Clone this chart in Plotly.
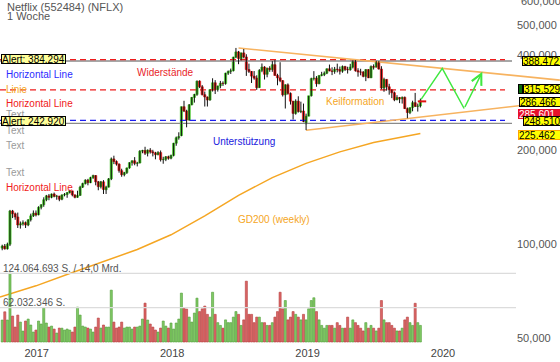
import math
import pandas as pd
import numpy as np
import plotly.graph_objects as go

# ---------------- data (USD, weekly candles) ----------------
first_week = "2016-09-26"

opens = [97.0, 98.5, 96.5, 99.8, 127.5, 124.9, 122.0, 115.0, 116.0, 117.0, 115.0, 119.5, 123.0, 125.5,
         124.0, 131.0, 133.5, 138.5, 142.5, 141.0, 144.5, 142.0, 142.3, 139.0, 143.5, 144.0, 146.0, 147.8,
         143.5, 141.0, 143.0, 152.0, 156.0, 160.0, 157.0, 163.0, 165.5, 158.0, 152.5, 158.0, 149.0, 152.0,
         161.5, 187.0, 183.5, 180.0, 171.5, 166.5, 169.0, 175.0, 182.0, 184.5, 181.0, 181.5, 198.0, 199.0,
         195.0, 199.5, 197.0, 195.5, 193.0, 196.0, 186.0, 186.5, 190.0, 188.0,
         192.0, 209.9, 218.5, 222.0, 274.6, 266.0, 249.0, 278.5, 294.0, 300.5, 331.5, 318.0, 300.0, 295.0,
         288.5, 311.5, 327.5, 311.5, 320.0, 326.5, 325.5, 351.5, 356.0, 358.0, 395.5, 411.0, 391.5, 408.0,
         396.0, 361.0, 356.0, 344.0, 339.0, 316.0, 358.8, 367.7, 348.7, 364.6, 361.0, 374.1, 345.6, 339.6,
         332.7, 299.8, 322.6, 302.9, 286.0, 261.4, 286.1, 265.1, 266.0, 242.0, 256.1,
         297.6, 337.6, 339.1, 325.2, 345.7, 347.6, 351.4, 363.0, 357.3, 356.0, 362.0, 361.0, 356.6, 369.0,
         361.2, 360.4, 367.7, 385.0, 358.0, 354.5, 354.4, 343.3, 360.9, 339.7, 369.0, 367.3, 381.7, 362.4,
         315.1, 335.8, 318.0, 311.0, 304.3, 289.0, 293.8, 291.0, 294.2, 270.8, 263.1, 272.8, 282.9, 275.3,
         276.0]
highs = [99.5, 100.0, 101.0, 128.5, 128.5, 126.0, 126.0, 118.0, 119.0, 118.0, 120.0, 125.0, 128.0, 128.0,
         132.0, 134.0, 141.0, 143.5, 144.5, 145.0, 146.0, 143.5, 142.5, 144.0, 145.5, 146.5, 149.0, 148.0,
         144.0, 148.0, 153.5, 157.0, 161.0, 161.5, 164.0, 166.5, 166.0, 159.0, 159.0, 160.0, 153.5, 162.5,
         189.0, 191.5, 185.0, 181.0, 174.0, 170.0, 175.5, 182.5, 185.0, 189.5, 183.0, 199.5, 200.0, 204.5,
         200.5, 202.5, 200.0, 197.0, 198.0, 199.0, 190.0, 191.0, 191.5, 193.0,
         210.5, 220.5, 227.5, 275.0, 286.8, 268.5, 280.0, 295.0, 302.0, 333.0, 333.5, 322.0, 307.0, 296.0,
         312.0, 338.5, 334.0, 320.5, 332.0, 331.0, 352.5, 358.5, 363.5, 396.5, 423.2, 414.0, 409.0, 419.8,
         404.0, 377.0, 357.0, 357.0, 346.0, 362.0, 377.5, 370.0, 366.0, 370.0, 384.0, 386.8, 350.0, 381.0,
         334.0, 324.0, 326.0, 305.0, 286.5, 290.0, 296.5, 285.0, 281.0, 261.0, 297.5,
         340.0, 356.8, 344.0, 346.0, 355.0, 356.0, 364.0, 374.5, 367.0, 368.0, 377.0, 369.0, 372.0, 371.0,
         368.5, 376.5, 386.0, 387.0, 364.5, 363.0, 357.0, 362.0, 362.0, 372.0, 375.0, 385.0, 384.0, 370.0,
         340.0, 336.0, 325.0, 312.0, 307.0, 299.0, 295.0, 296.0, 296.0, 273.0, 273.0, 287.0, 304.0, 281.0,
         291.5]
lows = [95.5, 96.0, 96.0, 98.5, 121.0, 119.5, 112.5, 112.0, 114.5, 112.5, 114.0, 118.0, 122.0, 122.5,
        123.5, 129.0, 131.5, 137.0, 138.0, 140.0, 141.0, 138.5, 137.0, 138.0, 142.0, 140.5, 145.0, 142.0,
        140.0, 140.5, 142.5, 151.0, 155.0, 154.0, 156.5, 161.5, 154.0, 148.5, 150.5, 144.5, 144.5, 151.5,
        160.0, 180.0, 178.0, 169.0, 164.0, 164.5, 167.5, 174.0, 178.0, 178.5, 177.0, 181.0, 195.0, 192.5,
        190.5, 194.5, 190.5, 186.5, 192.0, 183.5, 180.5, 184.0, 186.0, 186.5,
        190.5, 206.0, 215.5, 221.0, 264.0, 236.0, 247.5, 277.5, 283.0, 297.5, 315.0, 298.5, 275.0, 275.0,
        287.0, 307.0, 301.5, 307.0, 314.5, 320.0, 323.0, 347.0, 349.5, 356.0, 392.5, 375.5, 386.0, 392.0,
        344.5, 352.0, 327.0, 335.0, 310.9, 315.5, 354.0, 335.5, 341.0, 355.0, 355.0, 345.0, 321.5, 329.0,
        296.0, 271.0, 300.0, 279.0, 250.0, 259.0, 263.0, 262.0, 245.0, 231.2, 256.0,
        296.0, 333.0, 318.0, 324.0, 343.5, 344.0, 349.0, 356.5, 346.5, 350.0, 353.5, 348.0, 352.5, 357.0,
        350.5, 358.0, 364.0, 355.5, 342.5, 346.0, 341.0, 331.5, 339.0, 339.0, 361.0, 366.5, 361.0, 312.0,
        306.5, 309.0, 300.0, 292.5, 286.0, 288.0, 282.0, 281.0, 270.0, 252.3, 260.0, 265.5, 274.0, 265.0,
        273.0]
closes = [98.5, 96.5, 99.8, 127.5, 124.9, 122.0, 115.0, 116.0, 117.0, 115.0, 119.5, 123.0, 125.5, 123.8,
          131.0, 133.5, 138.5, 142.5, 141.0, 144.5, 142.0, 142.3, 139.0, 143.5, 144.0, 146.0, 147.8, 143.5,
          141.0, 143.0, 152.0, 156.0, 160.0, 157.0, 163.0, 165.5, 158.0, 152.5, 158.0, 149.4, 152.0, 161.5,
          187.0, 183.5, 180.0, 171.5, 166.5, 169.0, 175.0, 182.0, 184.5, 181.0, 181.5, 198.0, 199.0, 195.0,
          199.5, 197.0, 195.5, 193.0, 196.0, 186.0, 186.5, 190.0, 188.0, 192.0,
          209.9, 218.5, 220.5, 274.6, 266.0, 249.0, 278.5, 294.0, 300.5, 331.5, 318.0, 300.0, 295.0, 288.5,
          311.5, 327.5, 311.5, 320.0, 326.5, 325.5, 351.5, 356.0, 358.0, 395.5, 411.0, 391.5, 408.0, 396.0,
          361.0, 356.0, 344.0, 339.0, 316.0, 358.8, 367.7, 348.7, 364.6, 361.0, 374.1, 345.6, 339.6, 332.7,
          299.8, 322.6, 302.9, 286.0, 261.4, 286.1, 265.1, 266.0, 246.4, 256.1, 297.6,
          337.6, 339.1, 325.2, 345.7, 347.6, 351.4, 363.0, 357.3, 356.0, 362.0, 361.0, 356.6, 369.0, 361.2,
          360.4, 367.7, 385.0, 358.0, 354.5, 354.4, 343.3, 360.9, 339.7, 369.0, 367.3, 381.7, 362.4, 315.1,
          335.8, 318.0, 311.0, 304.3, 289.0, 293.8, 291.0, 294.2, 270.8, 263.1, 272.8, 282.9, 275.3, 276.0,
          286.8]
# weekly volume, millions of shares
volumes_m = [39.7, 54.6, 39.7, 124.4, 46.9, 27.0, 48.7, 36.0, 19.8, 37.9, 41.5, 30.7, 18.0, 21.6, 37.9, 32.5,
             61.3, 34.3, 27.0, 28.8, 23.4, 16.2, 25.2, 25.0, 21.6, 23.4, 21.6, 18.0, 27.0,
             63.1, 48.7, 28.8, 27.0, 25.2, 23.4, 18.0, 27.0, 43.3, 25.2, 30.7, 27.0, 27.0,
             93.8, 36.0, 25.2, 27.0, 36.0, 25.2, 27.0, 27.0, 23.4, 27.0, 27.0, 28.8, 41.5,
             70.3, 39.7, 32.5, 27.0, 21.6, 18.0, 25.2, 37.9, 28.8, 25.2, 34.3, 23.4, 34.3, 41.5,
             88.4, 61.3, 59.5, 45.1, 36.0, 52.3, 79.3,
             55, 60, 65, 50, 45, 90, 50, 35, 30, 25, 40, 35, 35, 45, 55, 50, 30, 40, 110, 50, 50,
             35, 45, 45, 35, 35, 30, 30, 35, 45, 55, 90, 60, 75, 40, 45, 55, 50, 45, 40, 50, 40, 60,
             75, 80, 55, 40, 30, 25, 30, 30, 30, 25, 35, 30, 25, 25, 45, 25, 40, 35, 30, 25, 20,
             35, 25, 30, 25, 20, 25, 75, 40, 35, 35, 30, 25, 20, 20, 25, 40, 45, 35, 30, 70, 35, 30]

gd200_dates = ["2016-09-24", "2016-12-30", "2017-03-31", "2017-06-30", "2017-09-29", "2017-12-29",
               "2018-03-30", "2018-06-29", "2018-09-28", "2018-12-28", "2019-03-29", "2019-06-28",
               "2019-11-01"]
gd200_vals = [67.7, 73.5, 80.5, 88.0, 96.0, 107.0, 123.0, 143.0, 163.0, 181.0, 197.0, 211.0, 225.462]

resistance_level = 388.472
alert_high = 384.294
mid_line_level = 311.0
support_level = 248.51
alert_low = 242.92
last_price = 285.601

wedge_upper_dates = ["2018-06-29", "2020-11-11"]
wedge_upper_vals = [423.0, 334.0]
wedge_lower_dates = ["2018-12-28", "2020-11-11"]
wedge_lower_vals = [231.0, 286.466]

proj_dates = ["2019-11-03", "2019-12-30", "2020-02-27", "2020-04-16"]
proj_vals = [290.0, 364.0, 271.0, 355.0]

vol_grid_levels = [62.032346, 124.064693]

right_labels = ["388,472", "315,529", "286,466", "285,601", "248,510", "225,462"]
right_label_vals = [388.472, 315.529, 286.466, 285.601, 248.51, 225.462]

year_ticks = ["2017-01-01", "2018-01-01", "2019-01-01", "2020-01-01"]
year_labels = ["2017", "2018", "2019", "2020"]
price_ticks = [50, 100, 200, 400, 500]
price_tick_labels = ["50,000", "100,000", "200,000", "400,000", "500,000"]
top_tick = 600
top_tick_label = "600,000"

n = len(opens)
assert len(highs) == n and len(lows) == n and len(closes) == n and len(volumes_m) == n

# ---------------- geometry ----------------
W, H = 560, 362
PLOT_H = 345
ref_date = pd.Timestamp("2017-01-01")
ref_px = 36.7
px_per_day = 0.37105


def px2date(px):
    return (ref_date + pd.Timedelta(days=(px - ref_px) / px_per_day)).strftime("%Y-%m-%d %H:%M")


def xp(px):
    return px / W


def yp(py):
    return (PLOT_H - py) / PLOT_H


x_left, x_right = px2date(0), px2date(W)
dash_end = px2date(505)
gray_end = px2date(512)
grid_end = px2date(516)

week_dates = pd.date_range(first_week, periods=n, freq="7D") + pd.Timedelta(days=4)
dates = [d.strftime("%Y-%m-%d") for d in week_dates]

GREEN = "#3cbf1e"
RED = "#e01010"
up = [c >= o for o, c in zip(opens, closes)]

fig = go.Figure()

# volume bars
fig.add_trace(go.Bar(
    x=dates, y=volumes_m, yaxis="y2", width=5.6 * 86400000,
    marker=dict(color=["#80c965" if u else "#da6666" for u in up],
                line=dict(color=["#4f9e35" if u else "#b63a3a" for u in up], width=0.6)),
    hoverinfo="skip"))
for lv in vol_grid_levels:
    fig.add_trace(go.Scatter(x=[x_left, grid_end], y=[lv, lv], yaxis="y2", mode="lines",
                             line=dict(color="#dcdcdc", width=1.2), hoverinfo="skip"))


def hline(level, color, dash, end, width=1.2):
    fig.add_trace(go.Scatter(x=[x_left, end], y=[level, level], mode="lines",
                             line=dict(color=color, width=width, dash=dash), hoverinfo="skip"))


hline(alert_high, "#8a8a8a", "solid", gray_end, 1.4)
hline(alert_low, "#8a8a8a", "solid", gray_end, 1.4)
hline(resistance_level, "#ee1c1c", "6px,4px", dash_end)
hline(mid_line_level, "#ee1c1c", "6px,4px", dash_end)
hline(support_level, "#1c1cee", "6px,4px", dash_end)

# GD200
fig.add_trace(go.Scatter(x=gd200_dates, y=gd200_vals, mode="lines",
                         line=dict(color="#f5a623", width=1.5), hoverinfo="skip"))
# wedge
fig.add_trace(go.Scatter(x=wedge_upper_dates, y=wedge_upper_vals, mode="lines",
                         line=dict(color="#f7b360", width=1.6), hoverinfo="skip"))
fig.add_trace(go.Scatter(x=wedge_lower_dates, y=wedge_lower_vals, mode="lines",
                         line=dict(color="#f7b360", width=1.6), hoverinfo="skip"))

# wicks
wx, wy = [], []
for d, lo, hi in zip(dates, lows, highs):
    wx += [d, d, None]
    wy += [lo, hi, None]
fig.add_trace(go.Scatter(x=wx, y=wy, mode="lines", line=dict(color="#111111", width=1),
                         hoverinfo="skip"))
# bodies
base = [min(o, c) for o, c in zip(opens, closes)]
body = [abs(c - o) for o, c in zip(opens, closes)]
fig.add_trace(go.Bar(x=dates, y=body, base=base, width=6 * 86400000,
                     marker=dict(color=[GREEN if u else RED for u in up],
                                 line=dict(color=[GREEN if u else RED for u in up], width=0.6)),
                     hoverinfo="skip"))

# projection zigzag
fig.add_trace(go.Scatter(x=proj_dates[:3], y=proj_vals[:3], mode="lines",
                         line=dict(color="#3fe83f", width=1.5), hoverinfo="skip"))
# last price marker
fig.add_trace(go.Scatter(x=[px2date(422)], y=[last_price], mode="markers",
                         marker=dict(symbol="line-ew", size=6, line=dict(color="#e01010", width=2)),
                         hoverinfo="skip"))

annotations = []
annotations.append(dict(x=proj_dates[3], y=math.log10(proj_vals[3]), xref="x", yref="y",
                        ax=proj_dates[2], ay=math.log10(proj_vals[2]), axref="x", ayref="y",
                        text="", showarrow=True, arrowhead=5, arrowsize=1.4, arrowwidth=1.5,
                        arrowcolor="#3fe83f", standoff=0, startstandoff=0))
# top tick label (half cut at the top edge, as in the original)
annotations.append(dict(text=top_tick_label, x=xp(519), y=math.log10(top_tick), xref="paper",
                        yref="y", xanchor="left", yanchor="middle", showarrow=False,
                        font=dict(size=11, color="#555555")))


def text(t, px, py, color, size=10):
    annotations.append(dict(text=t, x=xp(px), y=yp(py), xref="paper", yref="paper",
                            xanchor="left", yanchor="middle", showarrow=False,
                            font=dict(size=size, color=color)))


BLUE = "#2b2bff"
LRED = "#f02020"
ORANGE = "#f5a623"
GRAY = "#9a9a9a"
text("Netflix (552484) (NFLX)", 5, 6.5, "#555555", 11)
text("1 Woche", 5, 15.5, "#555555", 11)
text("Horizontal Line", 4, 75, BLUE)
text("Linie", 4, 89, ORANGE)
text("Horizontal Line", 4, 103, LRED)
text("Text", 4, 114, GRAY)
text("Text", 4, 131, GRAY)
text("Text", 4, 145, GRAY)
text("Text", 4, 173, GRAY)
text("Horizontal Line", 4, 187, LRED)
text("Widerstände", 135, 72, "#e8262b")
text("Unterstützung", 211, 141, "#2020dd")
text("Keilformation", 324, 101, ORANGE)
text("GD200 (weekly)", 236, 220, ORANGE)
text("124.064.693 S. / 14,0 Mrd.", 1, 268, "#555555")
text("62.032.346 S.", 1, 302, "#555555")


def box(t, px_left, py_center, bg, border, color, width):
    annotations.append(dict(text=t, x=xp(px_left), y=yp(py_center), xref="paper", yref="paper",
                            xanchor="left", yanchor="middle", showarrow=False, align="left",
                            bgcolor=bg, bordercolor=border, borderwidth=1, borderpad=0,
                            height=8, width=width, font=dict(size=10, color=color)))


box("Alert: 384,294", 0.7, 59, "#ffff99", "#000000", "#000000", 63)
box("Alert: 242,920", 0.7, 120.7, "#ffff99", "#000000", "#000000", 63)

label_px = [522, 523, 519, 518, 523, 518]
label_bg = ["#ffff00", "#ffff00", "#ffff00", "#e8102a", "#ffff00", "#ffff00"]
label_border = ["#000000", "#000000", "#000000", "#e8102a", "#000000", "#ffa500"]
label_color = ["#000000", "#000000", "#000000", "#ffffff", "#000000", "#000000"]
label_shift = [0, 0, 0, -12, 0, 0]
annotations.append(dict(text="", x=xp(518), y=math.log10(315.529), xref="paper", yref="y",
                        xanchor="left", yanchor="middle", showarrow=False, bgcolor="#0a6a0a",
                        bordercolor="#000000", borderwidth=1, borderpad=0, width=3, height=8,
                        yshift=-1))
for t, v, lx, bg, bc, fc, sh in zip(right_labels, right_label_vals, label_px, label_bg,
                                    label_border, label_color, label_shift):
    annotations.append(dict(text=t, x=xp(lx), y=math.log10(v), xref="paper", yref="y",
                            xanchor="left", yanchor="middle", showarrow=False, align="left",
                            bgcolor=bg, bordercolor=bc, borderwidth=1, borderpad=0, height=8,
                            width=44, yshift=sh - 1, font=dict(size=10, color=fc)))

log_lo = math.log10(100 * 2 ** (-(PLOT_H - 244) / 94.2))
log_hi = math.log10(100 * 2 ** (244 / 94.2))
v_per_px = 62.032346 / 34.3
vol_lo = -(PLOT_H - 342) * v_per_px
vol_hi = vol_lo + PLOT_H * v_per_px

fig.update_layout(
    width=W, height=H, margin=dict(l=0, r=0, t=0, b=H - PLOT_H),
    paper_bgcolor="white", plot_bgcolor="white", showlegend=False, bargap=0,
    font=dict(family="Liberation Sans, Arial, sans-serif", size=11, color="#444444"),
    xaxis=dict(type="date", range=[x_left, x_right], domain=[0, 1], anchor="y",
               showgrid=False, zeroline=False, showline=False, ticks="",
               tickvals=year_ticks, ticktext=year_labels,
               tickfont=dict(size=11, color="#444444")),
    yaxis=dict(type="log", range=[log_lo, log_hi], side="right", anchor="free",
               position=516 / W, showgrid=False, zeroline=False, showline=False, ticks="",
               tickvals=price_ticks, ticktext=price_tick_labels,
               tickfont=dict(size=11, color="#555555")),
    yaxis2=dict(overlaying="y", anchor="x", range=[vol_lo, vol_hi], visible=False,
                showgrid=False, zeroline=False),
    annotations=annotations,
)

fig.write_html("out.html", config={"displayModeBar": False, "staticPlot": True},
               post_script="document.body.style.margin='0';document.body.style.padding='0';")
